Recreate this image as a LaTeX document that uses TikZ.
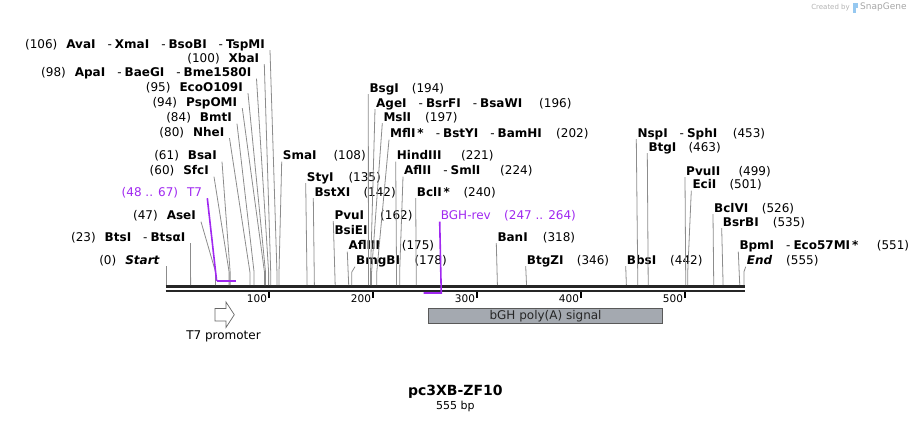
\documentclass[tikz,border=0pt]{standalone}
\usepackage{fontspec}
\setmainfont{DejaVu Sans}
\usepackage{xcolor}
\definecolor{primer}{RGB}{160,40,240}
\definecolor{cutgray}{RGB}{140,140,140}
\definecolor{featfill}{RGB}{164,169,176}
\definecolor{snapblue}{RGB}{150,200,240}
\newcommand{\sepd}{\hspace{12pt}-\hspace{3pt}}
\newcommand{\nm}[1]{\textbf{#1}}

\tikzset{
  lbl/.style={inner xsep=0pt, inner ysep=1pt, text height=9pt, text depth=1pt, font=\fontsize{12}{14}\selectfont},
  leftlbl/.style={lbl, anchor=base east},
  rightlbl/.style={lbl, anchor=base west},
  cutline/.style={draw=cutgray, line width=0.8pt},
  primline/.style={draw=primer, line width=1.6pt},
}

\begin{document}
\begin{tikzpicture}[x=1pt, y=-1pt, declare function={px(\n)=166.7+1.04*\n;}]
  \useasboundingbox (0,0) rectangle (911,423);

  % cut sites on the backbone
  \foreach \n in {0,23,47,48,60,61,67,80,84,94,95,98,100,106,108,135,142,162,175,178,194,196,197,202,221,224,240,247,264,318,346,442,453,463,499,501,526,535,551,555} {
    \coordinate (k\n) at ({px(\n)},272);
    \coordinate (s\n) at ({px(\n)},285);
  }

  % backbone and ruler
  \coordinate (bbL) at ({px(0)-1},286.3);
  \coordinate (bbR) at ({px(555)+1},286.3);
  \draw[line width=2.5pt, black!85] (bbL) -- (bbR);
  \draw[line width=2.5pt, black!85] ([yshift=-4.5pt]bbL) -- ([yshift=-4.5pt]bbR);
  \foreach \t in {100,200,300,400,500} {
    \draw[line width=1.8pt] ({px(\t)-1.8},292) -- ({px(\t)-1.8},298);
    \node[anchor=base east, inner sep=0pt, font=\fontsize{10.5}{12}\selectfont] (tick\t) at ({px(\t)-3.5},302) {\t};
  }

  % left labels
  \node[leftlbl] (avaI) at (265,48) {(106)\hspace{9pt}\nm{AvaI}\sepd\nm{XmaI}\sepd\nm{BsoBI}\sepd\nm{TspMI}};
  \node[leftlbl] (xbaI) at (259.3,62) {(100)\hspace{9pt}\nm{XbaI}};
  \node[leftlbl] (apaI) at (251.5,76.5) {(98)\hspace{9pt}\nm{ApaI}\sepd\nm{BaeGI}\sepd\nm{Bme1580I}};
  \node[leftlbl] (ecoO) at (243,91) {(95)\hspace{9pt}\nm{EcoO109I}};
  \node[leftlbl] (pspOMI) at (237.3,106) {(94)\hspace{9pt}\nm{PspOMI}};
  \node[leftlbl] (bmtI) at (232,121.5) {(84)\hspace{9pt}\nm{BmtI}};
  \node[leftlbl] (nheI) at (224.5,136) {(80)\hspace{9pt}\nm{NheI}};
  \node[leftlbl] (bsaI) at (217,159.5) {(61)\hspace{9pt}\nm{BsaI}};
  \node[leftlbl] (sfcI) at (209,174.5) {(60)\hspace{9pt}\nm{SfcI}};
  \node[leftlbl, text=primer] (t7) at (202.3,196) {(48 .. 67)\hspace{9pt}T7};
  \node[leftlbl] (aseI) at (196,219.5) {(47)\hspace{9pt}\nm{AseI}};
  \node[leftlbl] (btsI) at (185.5,241) {(23)\hspace{9pt}\nm{BtsI}\sepd\nm{BtsαI}};
  \node[leftlbl] (start) at (160,264) {(0)\hspace{9pt}\textbf{\itshape Start}};

  \draw[cutline] ([xshift=5pt]avaI.south east) -- (k106) -- (s106);
  \draw[cutline] ([xshift=5pt]xbaI.south east) -- (k100) -- (s100);
  \draw[cutline] ([xshift=5pt]apaI.south east) -- (k98) -- (s98);
  \draw[cutline] ([xshift=5pt]ecoO.south east) -- (k95) -- (s95);
  \draw[cutline] ([xshift=5pt]pspOMI.south east) -- (k94) -- (s94);
  \draw[cutline] ([xshift=5pt]bmtI.south east) -- (k84) -- (s84);
  \draw[cutline] ([xshift=5pt]nheI.south east) -- (k80) -- (s80);
  \draw[cutline] ([xshift=5pt]bsaI.south east) -- (k61) -- (s61);
  \draw[cutline] ([xshift=5pt]sfcI.south east) -- (k60) -- (s60);
  \draw[cutline] ([xshift=5pt]aseI.south east) -- (k47) -- (s47);
  \draw[cutline] ([xshift=5pt]btsI.south east) -- (s23);
  \draw[cutline] ([xshift=6.7pt]start.south east) -- (s0);
  \draw[primline] ([xshift=5pt]t7.south east) -- ([yshift=-9pt]k48);
  \draw[primline] ([yshift=-9pt]k48) -- ([yshift=-9pt]k67);

  % right labels
  \node[rightlbl] (smaI) at (282.7,159.5) {\nm{SmaI}};
  \node[rightlbl] (n108) at (333.3,159.5) {(108)};
  \node[rightlbl] (styI) at (306.7,181) {\nm{StyI}};
  \node[rightlbl] (n135) at (348.3,181) {(135)};
  \node[rightlbl] (bstXI) at (314.3,196) {\nm{BstXI}};
  \node[rightlbl] (n142) at (363.3,196) {(142)};
  \node[rightlbl] (pvuI) at (334.3,219) {\nm{PvuI}};
  \node[rightlbl] (n162) at (380,219) {(162)};
  \node[rightlbl] (bsiEI) at (334.3,234.5) {\nm{BsiEI}};
  \node[rightlbl] (aflIII) at (348.3,249.5) {\nm{AflIII}};
  \node[rightlbl] (n175) at (401.7,249.5) {(175)};
  \node[rightlbl] (bmgBI) at (356,264.5) {\nm{BmgBI}};
  \node[rightlbl] (n178) at (414.3,264.5) {(178)};
  \node[rightlbl] (bsgI) at (369.3,92) {\nm{BsgI}};
  \node[rightlbl] (n194) at (411.7,92) {(194)};
  \node[rightlbl] (ageI) at (376,107) {\nm{AgeI}\sepd\nm{BsrFI}\sepd\nm{BsaWI}};
  \node[rightlbl] (n196) at (539,107) {(196)};
  \node[rightlbl] (mslI) at (383.3,121) {\nm{MslI}};
  \node[rightlbl] (n197) at (425,121) {(197)};
  \node[rightlbl] (mflI) at (390,137.5) {\nm{MflI\,*}\sepd\nm{BstYI}\sepd\nm{BamHI}};
  \node[rightlbl] (n202) at (556,137.5) {(202)};
  \node[rightlbl] (hindIII) at (396.7,159.5) {\nm{HindIII}};
  \node[rightlbl] (n221) at (461,159.5) {(221)};
  \node[rightlbl] (aflII) at (404,174.5) {\nm{AflII}\sepd\nm{SmlI}};
  \node[rightlbl] (n224) at (500,174.5) {(224)};
  \node[rightlbl] (bclI) at (416.7,196) {\nm{BclI\,*}};
  \node[rightlbl] (n240) at (463.3,196) {(240)};
  \node[rightlbl, text=primer] (bghrev) at (440.7,219.5) {BGH-rev};
  \node[rightlbl, text=primer] (n247) at (504,219.5) {(247 .. 264)};
  \node[rightlbl] (banI) at (497.3,241) {\nm{BanI}};
  \node[rightlbl] (n318) at (542.7,241) {(318)};
  \node[rightlbl] (btgZI) at (526.7,264) {\nm{BtgZI}};
  \node[rightlbl] (n346) at (576.7,264) {(346)};
  \node[rightlbl] (bbsI) at (626.7,264) {\nm{BbsI}};
  \node[rightlbl] (n442) at (670,264) {(442)};
  \node[rightlbl] (nspI) at (637.3,137) {\nm{NspI}\sepd\nm{SphI}};
  \node[rightlbl] (n453) at (732.7,137) {(453)};
  \node[rightlbl] (btgI) at (648.3,151) {\nm{BtgI}};
  \node[rightlbl] (n463) at (688.3,151) {(463)};
  \node[rightlbl] (pvuII) at (686,175) {\nm{PvuII}};
  \node[rightlbl] (n499) at (738.3,175) {(499)};
  \node[rightlbl] (eciI) at (692.3,188.5) {\nm{EciI}};
  \node[rightlbl] (n501) at (729.3,188.5) {(501)};
  \node[rightlbl] (bclVI) at (714,212) {\nm{BclVI}};
  \node[rightlbl] (n526) at (761.7,212) {(526)};
  \node[rightlbl] (bsrBI) at (722.7,226) {\nm{BsrBI}};
  \node[rightlbl] (n535) at (772.7,226) {(535)};
  \node[rightlbl] (bpmI) at (739.3,249.5) {\nm{BpmI}\sepd\nm{Eco57MI\,*}};
  \node[rightlbl] (n551) at (876.7,249.5) {(551)};
  \node[rightlbl] (theEnd) at (746.7,264.5) {\textbf{\itshape End}};
  \node[rightlbl] (n555) at (786,264.5) {(555)};

  \draw[cutline] ([xshift=-1pt]smaI.south west) -- (k108) -- (s108);
  \draw[cutline] ([xshift=-1pt]styI.south west) -- (s135);
  \draw[cutline] ([xshift=-1pt]bstXI.south west) -- (s142);
  \draw[cutline] ([xshift=-1pt]pvuI.south west) -- (s162);
  \draw[cutline] ([xshift=-1pt]aflIII.south west) -- (s175);
  \draw[cutline] ([xshift=-1pt]bmgBI.south west) -- (k178) -- (s178);
  \draw[cutline] ([xshift=-1pt]bsgI.south west) -- (k194) -- (s194);
  \draw[cutline] ([xshift=-1pt]ageI.south west) -- (k196) -- (s196);
  \draw[cutline] ([xshift=-1pt]mslI.south west) -- (k197) -- (s197);
  \draw[cutline] ([xshift=-1pt]mflI.south west) -- (k202) -- (s202);
  \draw[cutline] ([xshift=-1pt]hindIII.south west) -- (k221) -- (s221);
  \draw[cutline] ([xshift=-1pt]aflII.south west) -- (k224) -- (s224);
  \draw[cutline] ([xshift=-1pt]bclI.south west) -- (s240);
  \draw[cutline] ([xshift=-1pt]banI.south west) -- (s318);
  \draw[cutline] ([xshift=-1pt]btgZI.south west) -- (s346);
  \draw[cutline] ([xshift=-1pt]bbsI.south west) -- (s442);
  \draw[cutline] ([xshift=-1pt]nspI.south west) -- (s453);
  \draw[cutline] ([xshift=-1pt]btgI.south west) -- (s463);
  \draw[cutline] ([xshift=-1pt]pvuII.south west) -- (k499) -- (s499);
  \draw[cutline] ([xshift=-1pt]eciI.south west) -- (k501) -- (s501);
  \draw[cutline] ([xshift=-1pt]bclVI.south west) -- (s526);
  \draw[cutline] ([xshift=-1pt]bsrBI.south west) -- (s535);
  \draw[cutline] ([xshift=-1pt]bpmI.south west) -- (s551);
  \draw[cutline] ([xshift=-1pt]theEnd.south west) -- (k555) -- (s555);
  \draw[primline] ([xshift=-1pt]bghrev.south west) -- ([yshift=-8pt]s264) -- ([yshift=-8pt]s247);

  % features
  \draw[black!60, fill=white, line width=0.7pt] (215,308.5) -- (226,308.5) -- (226,302) -- (234.3,314.7) -- (226,327.5) -- (226,321) -- (215,321) -- cycle;
  \node[font=\fontsize{12}{14}\selectfont] (t7prom) at (223.5,336.5) {T7 promoter};
  \node[draw=black!65, fill=featfill, line width=0.8pt, anchor=north west, inner sep=0pt,
        minimum width=233.7pt, minimum height=15.6pt, font=\fontsize{12}{14}\selectfont, text=black!85] (polyA) at (428.3,307.7) {bGH poly(A) signal};

  % title
  \node[font=\bfseries\fontsize{14}{16}\selectfont] (title) at (455.3,391.7) {pc3XB-ZF10};
  \node[font=\fontsize{11}{13}\selectfont] (size) at (455.3,406.5) {555 bp};

  % credit
  \node[anchor=east, inner sep=0pt, text=black!30, font=\fontsize{7}{8}\selectfont] (created) at (850,7.5) {Created by};
  \fill[snapblue] (852.5,2.5) rectangle (855.5,12.5);
  \fill[snapblue] (855.5,2.5) rectangle (858,7.5);
  \node[anchor=west, inner sep=0pt, text=black!35, font=\fontsize{9}{10}\selectfont] (snapgene) at (860,7.5) {SnapGene};
\end{tikzpicture}
\end{document}
